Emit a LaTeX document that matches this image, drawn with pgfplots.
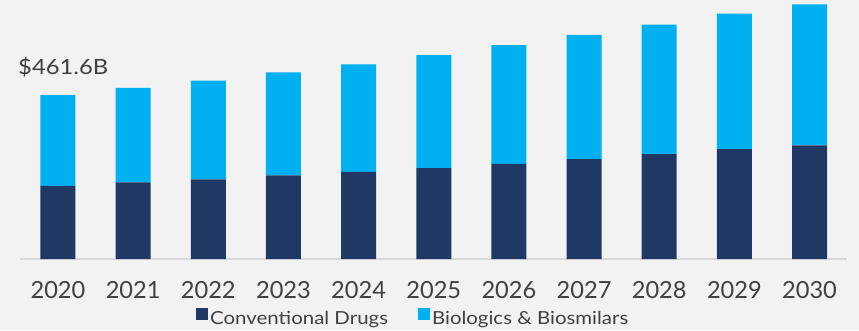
\documentclass[border=0pt]{standalone}
\usepackage{pgfplots}
\pgfplotsset{compat=1.18}
\usepackage{pgfplotstable}
\usepackage{fontspec}
\setmainfont{Lato}
\newfontfamily\widefont[FakeStretch=1.135]{Lato}
\definecolor{bg}{HTML}{F2F2F2}
\definecolor{navy}{HTML}{1F3864}
\definecolor{sky}{HTML}{00B0F0}
\definecolor{txt}{HTML}{404040}
\definecolor{axl}{HTML}{D9D9D9}
\pgfplotstableread{
x dark light
0 205.5 256.1
1 216 266
2 224 278
3 235.5 290
4 245 303
5 256 318
6 268 334
7 281 349.5
8 295 364.5
9 309 381.5
10 320 397
}\market
\begin{document}
\begin{tikzpicture}
\fill[bg] (0,0) rectangle (859pt,330pt);
\begin{axis}[
  at={(20.4pt,71pt)}, anchor=south west, scale only axis,
  width=826.7pt, height=259pt,
  xmin=-0.5, xmax=10.5, ymin=0, ymax=729,
  ybar stacked, bar width=35pt,
  axis x line*=bottom, axis y line=none,
  x axis line style={axl, line width=1.2pt},
  xtick={0,1,2,3,4,5,6,7,8,9,10},
  xticklabels={2020,2021,2022,2023,2024,2025,2026,2027,2028,2029,2030},
  major tick length=0pt,
  xticklabel style={font=\fontsize{23.6}{24}\selectfont, text=txt, inner sep=0pt, yshift=-22.5pt},
  ytick=\empty,
  clip=false,
  legend columns=2,
  legend image code/.code={\fill[#1] (0pt,-1pt) rectangle (12pt,11.5pt);},
  legend style={at={(0.2124,-0.228)}, anchor=west, draw=none, fill=none,
    font=\widefont\fontsize{18}{20}\selectfont, text=txt, inner sep=0pt,
    nodes={inner sep=2pt},
    /tikz/every even column/.append style={column sep=28pt}},
]
\addplot[fill=navy, draw=none] table[x=x, y=dark] {\market};
\addlegendentry{Conventional Drugs}
\addplot[fill=sky, draw=none] table[x=x, y=light] {\market};
\addlegendentry{Biologics \& Biosmilars}
\node[anchor=base west, inner sep=0pt, text=txt, font=\widefont\fontsize{21}{24}\selectfont] at (axis cs:-0.5,461.6) [xshift=-2.4pt, yshift=21pt] {\$461.6B};
\end{axis}
\pgfresetboundingbox
\path (0,0) rectangle (859pt,330pt);
\end{tikzpicture}
\end{document}
